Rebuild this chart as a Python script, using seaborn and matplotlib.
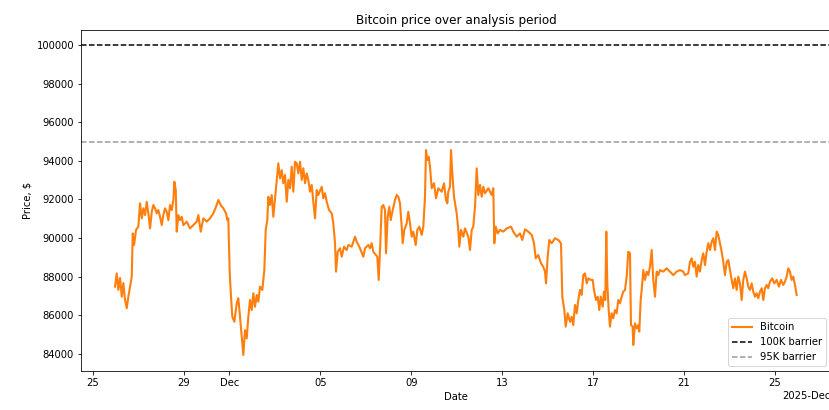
import matplotlib
matplotlib.use("Agg")
import matplotlib.pyplot as plt
import matplotlib.dates as mdates
import numpy as np
import pandas as pd
import seaborn as sns

# Bitcoin price samples: days after 2025-11-25 00:00 and price in USD
day_offset = [
    0.968, 1.043, 1.113, 1.188, 1.263, 1.333, 1.408, 1.483, 1.553, 1.628,
    1.703, 1.747, 1.804, 1.892, 1.993, 2.068, 2.143, 2.213, 2.288, 2.363,
    2.433, 2.508, 2.583, 2.653, 2.728, 2.802, 2.873, 2.948, 3.022, 3.093,
    3.168, 3.242, 3.313, 3.388, 3.462, 3.533, 3.577, 3.638, 3.682, 3.753,
    3.828, 3.902, 3.973, 4.122, 4.268, 4.413, 4.562, 4.633, 4.738, 4.853,
    5.002, 5.147, 5.293, 5.411, 5.513, 5.618, 5.733, 5.851, 5.909, 5.952,
    6.014, 6.071, 6.128, 6.217, 6.322, 6.392, 6.467, 6.542, 6.612, 6.687,
    6.762, 6.832, 6.907, 6.982, 7.052, 7.127, 7.202, 7.272, 7.347, 7.448,
    7.536, 7.598, 7.668, 7.712, 7.787, 7.862, 7.932, 8.007, 8.082, 8.152,
    8.227, 8.302, 8.372, 8.447, 8.522, 8.592, 8.667, 8.742, 8.812, 8.887,
    8.962, 9.032, 9.107, 9.182, 9.252, 9.327, 9.402, 9.472, 9.547, 9.622,
    9.692, 9.767, 9.842, 9.912, 10.062, 10.132, 10.207, 10.282, 10.383, 10.502,
    10.572, 10.647, 10.691, 10.766, 10.867, 10.942, 11.043, 11.162, 11.232, 11.381,
    11.527, 11.601, 11.747, 11.892, 11.967, 12.112, 12.187, 12.261, 12.332, 12.450,
    12.508, 12.569, 12.627, 12.701, 12.772, 12.846, 12.890, 12.965, 13.036, 13.097,
    13.185, 13.286, 13.361, 13.432, 13.506, 13.581, 13.625, 13.696, 13.801, 13.871,
    13.946, 14.021, 14.092, 14.197, 14.268, 14.356, 14.461, 14.531, 14.606, 14.650,
    14.707, 14.769, 14.826, 14.901, 15.002, 15.090, 15.191, 15.341, 15.442, 15.530,
    15.587, 15.631, 15.706, 15.750, 15.807, 15.882, 16.000, 16.071, 16.115, 16.190,
    16.291, 16.366, 16.511, 16.586, 16.661, 16.731, 16.806, 16.881, 16.951, 17.026,
    17.101, 17.171, 17.246, 17.391, 17.541, 17.611, 17.655, 17.717, 17.805, 17.906,
    18.051, 18.201, 18.390, 18.491, 18.641, 18.786, 18.887, 19.006, 19.151, 19.301,
    19.402, 19.476, 19.591, 19.710, 19.811, 19.886, 19.930, 20.004, 20.075, 20.180,
    20.326, 20.471, 20.590, 20.647, 20.735, 20.796, 20.884, 20.986, 21.060, 21.131,
    21.206, 21.280, 21.351, 21.425, 21.500, 21.571, 21.645, 21.720, 21.790, 21.896,
    21.984, 22.041, 22.129, 22.204, 22.275, 22.336, 22.424, 22.481, 22.539, 22.583,
    22.627, 22.688, 22.745, 22.820, 22.891, 22.965, 23.040, 23.110, 23.185, 23.260,
    23.330, 23.405, 23.480, 23.550, 23.625, 23.669, 23.744, 23.770, 23.845, 23.920,
    23.990, 24.034, 24.096, 24.153, 24.210, 24.285, 24.360, 24.430, 24.505, 24.580,
    24.650, 24.725, 24.800, 24.870, 24.945, 25.090, 25.240, 25.385, 25.530, 25.680,
    25.825, 25.970, 26.045, 26.190, 26.265, 26.340, 26.410, 26.485, 26.560, 26.630,
    26.705, 26.780, 26.850, 26.925, 27.000, 27.070, 27.145, 27.220, 27.290, 27.365,
    27.440, 27.510, 27.585, 27.660, 27.730, 27.805, 27.880, 27.950, 28.025, 28.100,
    28.170, 28.245, 28.320, 28.390, 28.465, 28.540, 28.610, 28.685, 28.760, 28.830,
    28.905, 28.980, 29.050, 29.125, 29.200, 29.270, 29.345, 29.420, 29.490, 29.565,
    29.640, 29.710, 29.785, 29.886, 29.974, 30.079, 30.180, 30.268, 30.369, 30.444,
    30.519, 30.590, 30.664, 30.739, 30.810, 30.884, 30.959,
]
price_usd = [
    87480, 88170, 87310, 87930, 86960, 87670, 86790, 86360, 86960, 87480,
    88000, 90240, 89640, 90420, 90590, 91800, 91020, 91540, 91190, 91880,
    91280, 90500, 91360, 91710, 91540, 91280, 91450, 91100, 90670, 91190,
    91540, 91360, 90930, 91710, 91450, 91970, 92920, 92490, 90330, 91190,
    90930, 91100, 90670, 90850, 90500, 90670, 90850, 91190, 90330, 91020,
    90850, 91020, 91280, 91620, 91970, 91710, 91540, 91280, 90930, 91020,
    88170, 86960, 85920, 85660, 86620, 86880, 85920, 84890, 83940, 85230,
    84800, 85920, 86790, 86270, 87140, 86440, 87050, 86700, 87480, 87310,
    88340, 90420, 90930, 92140, 91710, 92230, 91100, 92060, 93010, 93870,
    93090, 93520, 92840, 93270, 91880, 93010, 92580, 93700, 92400, 93950,
    93870, 93350, 93950, 93010, 93610, 92840, 93350, 93010, 92400, 92750,
    91880, 91020, 92490, 92230, 92660, 92060, 92320, 91880, 91450, 91280,
    90760, 89730, 88260, 89290, 89470, 89030, 89550, 89380, 89640, 89550,
    90070, 89810, 89470, 89030, 89470, 89640, 89470, 89730, 89290, 89120,
    89030, 87830, 89380, 91620, 91710, 91450, 89210, 91100, 91620, 90930,
    91450, 91970, 92230, 92140, 91800, 90590, 89730, 90420, 90760, 91360,
    90760, 90070, 90330, 89640, 90420, 90590, 90160, 90590, 92140, 94560,
    94040, 94210, 93700, 92580, 92840, 92060, 92580, 92400, 92840, 91970,
    91800, 92400, 92660, 94560, 93350, 92140, 91280, 90420, 89550, 90420,
    90070, 90500, 90070, 89380, 90420, 90590, 91620, 93610, 92230, 92750,
    92140, 92660, 92320, 92580, 92230, 92580, 89730, 90590, 90240, 90420,
    90330, 90500, 90590, 90330, 90070, 90240, 89900, 90450, 90330, 90160,
    89730, 88950, 89120, 88690, 88510, 88260, 87650, 89030, 89900, 89730,
    89990, 89900, 89730, 86960, 86270, 85410, 86100, 85660, 85920, 85490,
    86530, 86100, 86790, 87310, 87050, 88080, 88170, 87650, 87910, 87830,
    87830, 87310, 86790, 86960, 86270, 86960, 86440, 87220, 86790, 90330,
    87650, 86270, 85410, 86100, 85840, 86270, 86100, 86790, 86620, 86960,
    87220, 87310, 88000, 89290, 89210, 85490, 85410, 84460, 85580, 85320,
    85490, 85150, 86790, 87480, 88340, 87830, 88260, 88080, 88510, 89380,
    87830, 86960, 88260, 88080, 88340, 88260, 88430, 88260, 88080, 88260,
    88340, 88260, 88080, 88170, 88770, 88950, 88510, 88770, 88000, 88600,
    88260, 88860, 89210, 88600, 89290, 89730, 89380, 89810, 89990, 89380,
    90330, 90160, 89730, 89290, 88770, 88080, 88770, 88860, 88340, 87830,
    87400, 87910, 87310, 88000, 87650, 86790, 87830, 88260, 87910, 87480,
    87310, 87650, 87220, 86960, 87140, 86880, 87220, 87400, 86790, 87400,
    87570, 87400, 87740, 87910, 87650, 87830, 87480, 87830, 87570, 87740,
    88000, 88430, 88260, 87830, 88000, 87570, 87050,
]

barrier_high = 100000
barrier_low = 95000
start_date = "2025-11-25"

df = pd.DataFrame({
    "Date": pd.Timestamp(start_date) + pd.to_timedelta(day_offset, unit="D"),
    "Price": price_usd,
})

fig = plt.figure(figsize=(829 / 72, 410 / 72), dpi=72)
ax = fig.add_axes([81 / 829, 1 - 371 / 410, 750 / 829, 341 / 410])

sns.lineplot(data=df, x="Date", y="Price", ax=ax, color="#ff7f0e",
             linewidth=2.1, estimator=None, label="Bitcoin")
ax.axhline(barrier_high, color="black", linestyle="--", linewidth=1.5,
           label="100K barrier")
ax.axhline(barrier_low, color="#999999", linestyle="--", linewidth=1.5,
           label="95K barrier")

locator = mdates.AutoDateLocator()
ax.xaxis.set_major_locator(locator)
ax.xaxis.set_major_formatter(mdates.ConciseDateFormatter(locator))

t0 = pd.Timestamp(start_date)
ax.set_xlim(t0 - pd.Timedelta(days=0.53), t0 + pd.Timedelta(days=32.47))
ax.set_ylim(83110, 100780)

ax.set_title("Bitcoin price over analysis period")
ax.set_xlabel("Date")
ax.set_ylabel("Price, $")
ax.legend(loc="lower right")

fig.savefig("out.png", dpi=72)
